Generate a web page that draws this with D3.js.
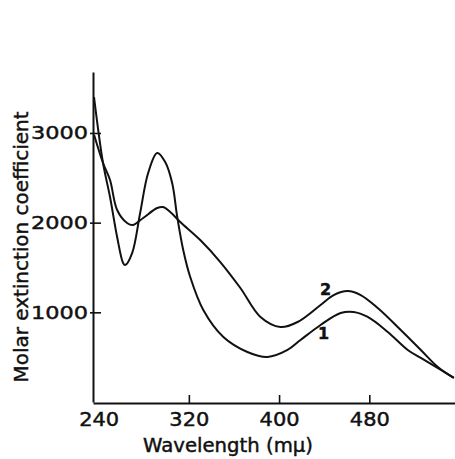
<!DOCTYPE html>
<html>
<head>
<meta charset="utf-8">
<script src="https://cdn.jsdelivr.net/npm/d3@7"></script>
<style>
  body { margin: 0; background: #fff; }
  svg { display: block; }
  text { font-family: "DejaVu Sans", sans-serif; fill: #111; stroke: #111; stroke-width: 0.45px; }
</style>
</head>
<body>
<svg id="chart" width="455" height="459"></svg>
<script>
// absorption spectra
const wavelength1 = [235.9, 243.9, 250.1, 256.4, 261.7, 263.5, 269.7, 276.8, 283.9, 291.9, 299, 305.2, 309.7, 315, 321.2, 332.8, 350.6, 371.9, 389.7, 407.5, 419, 436.8, 454.6, 466.1, 478.6, 496.4, 514.1, 525.7, 543.5, 555]
const extinction1 = [3401, 2665, 2286, 1840, 1550, 1527, 1661, 2107, 2553, 2776, 2676, 2442, 2063, 1695, 1394, 1026, 725, 558, 502, 580, 691, 859, 992, 1004, 948, 781, 580, 491, 357, 268]

const wavelength2 = [236, 243.9, 250.1, 256.4, 265.2, 270.6, 279.5, 291.9, 297.2, 303.5, 312.4, 330.1, 347.9, 365.7, 383.5, 401.2, 416.4, 436.8, 448.4, 460.8, 472.4, 487.5, 507.9, 525.7, 540.8, 555]
const extinction2 = [2977, 2665, 2475, 2141, 1996, 1974, 2052, 2163, 2174, 2119, 2007, 1806, 1561, 1271, 948, 836, 892, 1082, 1193, 1238, 1193, 1048, 803, 580, 390, 268]

const xTicks = [240, 320, 400, 480]
const yTicks = [1000, 2000, 3000]
const curveNames = ["1", "2"]
const labelWavelength = [439.5, 441.2]
const labelExtinction = [769, 1249]

const svg = d3.select("#chart")

x = d3.scaleLinear().domain([235, 556]).range([93, 455])
y = d3.scaleLinear().domain([0, 3680]).range([402, 72])

// y axis, ticks pointing inward
gy = svg.append("g")
    .attr("transform", "translate(93,0)")
    .call(d3.axisLeft(y).tickValues(yTicks).tickSize(-8).tickSizeOuter(0).tickPadding(5).tickFormat(d3.format("d")))
gy.select(".domain").attr("stroke", "#111").attr("stroke-width", 2)
gy.selectAll(".tick line").attr("stroke", "#111").attr("stroke-width", 1.6).attr("x1", -3)
gy.selectAll(".tick text")
    .attr("font-size", 18)
    .attr("fill", "#111")
    .attr("textLength", 57)
    .attr("lengthAdjust", "spacingAndGlyphs")

// x axis
gx = svg.append("g")
    .attr("transform", "translate(0,403)")
    .call(d3.axisBottom(x).tickValues(xTicks).tickSize(-8).tickSizeOuter(0).tickPadding(10))
gx.select(".domain").attr("stroke", "#111").attr("stroke-width", 2)
gx.selectAll(".tick line").attr("stroke", "#111").attr("stroke-width", 1.6)
    .attr("opacity", d => d == 240 ? 0 : 1)
gx.selectAll(".tick text")
    .attr("font-size", 19)
    .attr("fill", "#111")
    .attr("textLength", 40)
    .attr("lengthAdjust", "spacingAndGlyphs")

const line = d3.line()
    .x(d => x(d[0]))
    .y(d => y(d[1]))
    .curve(d3.curveCatmullRom.alpha(0.5))

const series = [
    d3.zip(wavelength1, extinction1),
    d3.zip(wavelength2, extinction2)
]

svg.selectAll("path.curve")
    .data(series)
    .join("path")
    .attr("class", "curve")
    .attr("d", line)
    .attr("fill", "none")
    .attr("stroke", "#111")
    .attr("stroke-width", 2)

svg.selectAll("text.curvelabel")
    .data(curveNames)
    .join("text")
    .attr("class", "curvelabel")
    .attr("x", (d, i) => x(labelWavelength[i]))
    .attr("y", (d, i) => y(labelExtinction[i]))
    .attr("text-anchor", "middle")
    .attr("dominant-baseline", "central")
    .attr("font-size", 16)
    .attr("font-weight", "bold")
    .text(d => d)

// axis titles
svg.append("text")
    .attr("x", 228)
    .attr("y", 452)
    .attr("text-anchor", "middle")
    .attr("font-size", 19)
    .attr("textLength", 170)
    .attr("lengthAdjust", "spacingAndGlyphs")
    .text("Wavelength (mμ)")

svg.append("text")
    .attr("transform", "translate(28,247) rotate(-90)")
    .attr("text-anchor", "middle")
    .attr("font-size", 20)
    .attr("textLength", 271)
    .attr("lengthAdjust", "spacingAndGlyphs")
    .text("Molar extinction coefficient")
</script>
</body>
</html>
